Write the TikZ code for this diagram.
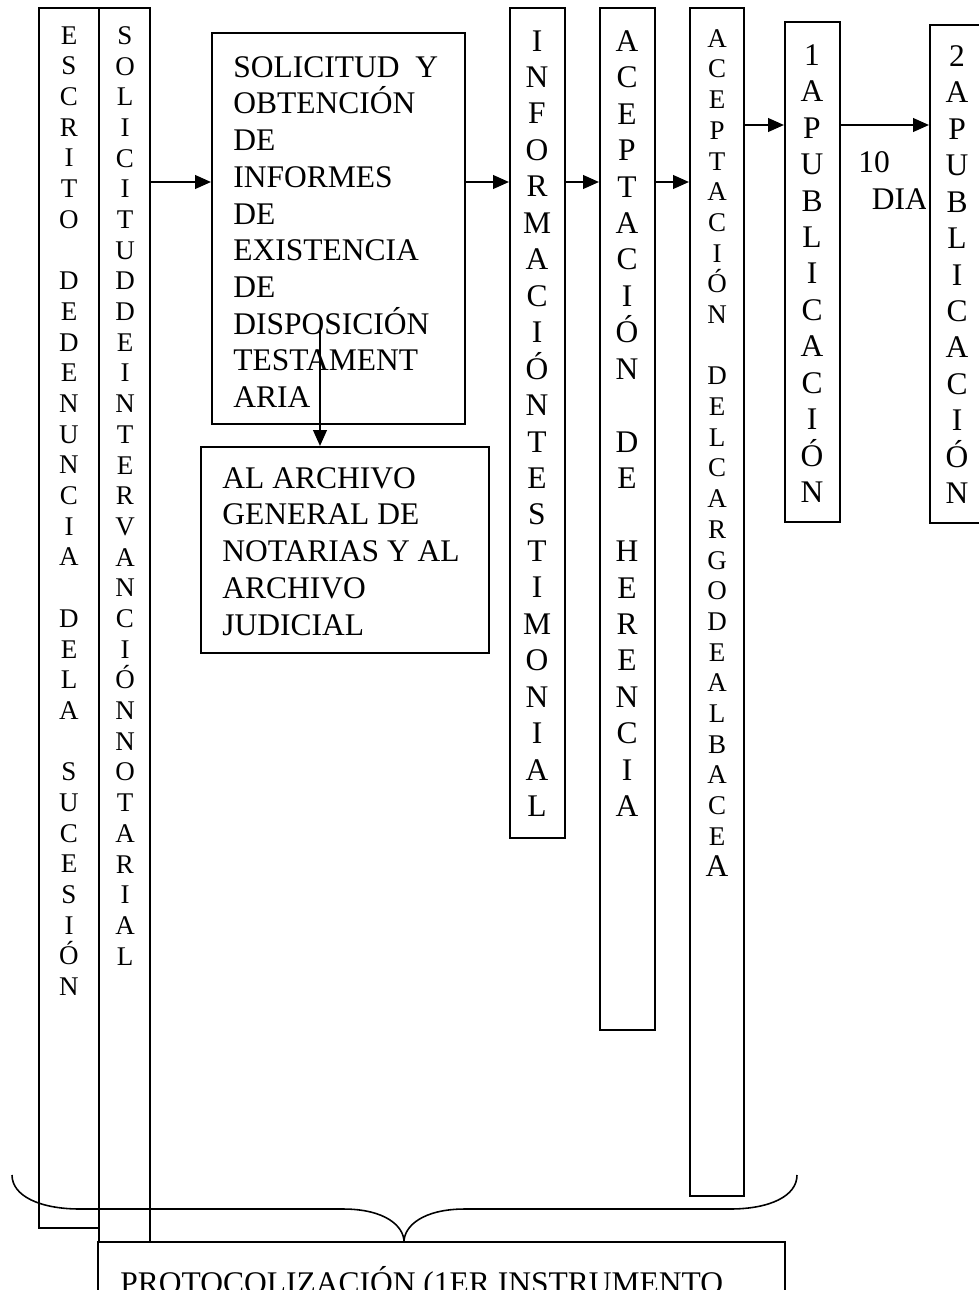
\documentclass[tikz,border=0pt]{standalone}
\usepackage{fontspec}
\setmainfont{Liberation Serif}
\usetikzlibrary{arrows.meta,positioning,fit}

\tikzset{
	caja/.style={draw, line width=0.9pt, inner sep=0pt, fill=white},
	letras/.style={align=center, inner sep=0pt, anchor=north, font=\fontsize{12}{13.64}\selectfont},
	letrasg/.style={align=center, inner sep=0pt, anchor=north, font=\fontsize{14}{16.2}\selectfont},
	texto/.style={align=left, inner sep=0pt, anchor=north west, font=\fontsize{14}{16.3}\selectfont},
	flecha/.style={line width=0.9pt, -{Triangle[length=7pt,width=6pt]}},
	llave/.style={line width=0.7pt}
}

\begin{document}
\begin{tikzpicture}[x=0.4444pt, y=-0.4444pt]
	\useasboundingbox (0,0) rectangle (978,1290);
	\coordinate (fila1) at (0,182);
	\coordinate (fila2) at (0,125);

	% columnas de la izquierda
	\node[caja, fit={(39,8) (99,1228)}] (escrito) {};
	\node[caja, fit={(99,8) (150,1320)}] (solint) {};
	\node[letras] (tescrito) at (69,26) {E\\S\\C\\R\\I\\T\\O\\~\\D\\E\\D\\E\\N\\U\\N\\C\\I\\A\\~\\D\\E\\L\\A\\~\\S\\U\\C\\E\\S\\I\\Ó\\N};
	\node[letras] (tsolint) at (125,26) {S\\O\\L\\I\\C\\I\\T\\U\\D\\D\\E\\I\\N\\T\\E\\R\\V\\A\\N\\C\\I\\Ó\\N\\N\\O\\T\\A\\R\\I\\A\\L};

	% informes
	\node[caja, fit={(212,33) (465,424)}] (obtencion) {};
	\node[texto] (tobtencion) at (233,56) {SOLICITUD\ \ Y\\OBTENCIÓN\\DE\\INFORMES\\DE\\EXISTENCIA\\DE\\DISPOSICIÓN\\TESTAMENT\\ARIA};
	\node[caja, fit={(201,447) (489,653)}] (archivo) {};
	\node[texto] (tarchivo) at (222,467) {AL ARCHIVO\\GENERAL DE\\NOTARIAS Y AL\\ARCHIVO\\JUDICIAL};

	% columnas de la derecha
	\node[caja, fit={(510,8) (565,838)}] (informacion) {};
	\node[letrasg] (tinformacion) at (537,30) {I\\N\\F\\O\\R\\M\\A\\C\\I\\Ó\\N\\T\\E\\S\\T\\I\\M\\O\\N\\I\\A\\L};
	\node[caja, fit={(600,8) (655,1030)}] (herencia) {};
	\node[letrasg] (therencia) at (627,30) {A\\C\\E\\P\\T\\A\\C\\I\\Ó\\N\\~\\D\\E\\~\\H\\E\\R\\E\\N\\C\\I\\A};
	\node[caja, fit={(690,8) (744,1196)}] (albacea) {};
	\node[letras] (talbacea) at (717,29) {A\\C\\E\\P\\T\\A\\C\\I\\Ó\\N\\~\\D\\E\\L\\C\\A\\R\\G\\O\\D\\E\\A\\L\\B\\A\\C\\E\\{\fontsize{14}{16}\selectfont A}};
	\node[caja, fit={(785,22) (840,522)}] (pub1) {};
	\node[letrasg] (tpub1) at (812,44) {1\\A\\P\\U\\B\\L\\I\\C\\A\\C\\I\\Ó\\N};
	\begin{scope}
		\clip (845,130) rectangle (925,230);
		\node[texto] (dias) at (858,151) {10\\\hspace*{6pt}DIAS};
	\end{scope}
	\node[caja, fit={(930,25) (986,523)}] (pub2) {};
	\node[letrasg] (tpub2) at (957,45) {2\\A\\P\\U\\B\\L\\I\\C\\A\\C\\I\\Ó\\N};

	% flechas
	\draw[flecha] (solint.east |- fila1) -- (obtencion.west |- fila1);
	\draw[flecha] (obtencion.east |- fila1) -- (informacion.west |- fila1);
	\draw[flecha] (informacion.east |- fila1) -- (herencia.west |- fila1);
	\draw[flecha] (herencia.east |- fila1) -- (albacea.west |- fila1);
	\draw[flecha] (albacea.east |- fila2) -- (pub1.west |- fila2);
	\draw[flecha] (pub1.east |- fila2) -- (pub2.west |- fila2);
	\coordinate (baja) at (320,330);
	\draw[flecha] (baja) -- (baja |- archivo.north);

	% llave
	\draw[llave] (12,1175) .. controls (12,1196) and (40,1209) .. (80,1209) -- (343,1209)
		.. controls (385,1209) and (404,1226) .. (404,1242)
		.. controls (404,1226) and (423,1209) .. (465,1209) -- (730,1209)
		.. controls (770,1209) and (797,1196) .. (797,1175);

	\node[caja, fit={(98,1242) (785,1330)}] (protocolo) {};
	\node[texto] (tprotocolo) at (120,1266) {PROTOCOLIZACIÓN (1ER INSTRUMENTO};
\end{tikzpicture}
\end{document}
